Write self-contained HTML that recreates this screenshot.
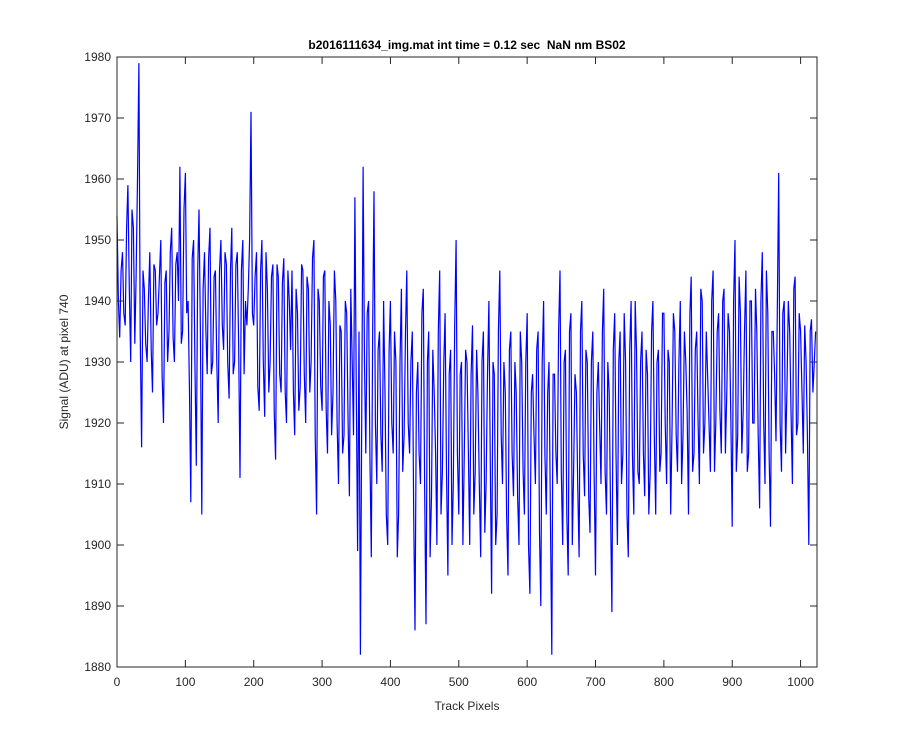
<!DOCTYPE html>
<html><head><meta charset="utf-8"><style>
body{margin:0;background:#fff}
svg text{font-family:"Liberation Sans",Arial,sans-serif;font-size:12px;fill:#262626}
</style></head><body>
<svg id="chart" width="900" height="750" xmlns="http://www.w3.org/2000/svg">
<rect width="900" height="750" fill="#fff"/>
<g id="axes"></g>
<text x="467" y="49" text-anchor="middle" style="font-weight:bold;font-size:12px;fill:#000;white-space:pre">b2016111634_img.mat int time = 0.12 sec  NaN nm BS02</text>
<text x="467" y="710" text-anchor="middle">Track Pixels</text>
<text transform="translate(68,362) rotate(-90)" text-anchor="middle">Signal (ADU) at pixel 740</text>
</svg>
<script>
const xTicks=[0,100,200,300,400,500,600,700,800,900,1000];
const yTicks=[1880,1890,1900,1910,1920,1930,1940,1950,1960,1970,1980];
const step=2;
const signal=[
1954,1940,1934,1945,1948,1938,1936,1952,1959,1942,1930,1955,1952,1933,1944,1960,1979,1935,1916,1945,1942,1933,1930,1940,1948,1932,1925,1946,1945,1936,1938,1944,
1950,1928,1920,1943,1945,1930,1935,1948,1952,1934,1930,1946,1948,1940,1962,1933,1935,1955,1961,1938,1940,1925,1907,1947,1950,1930,1913,1945,1955,1935,1905,1942,
1948,1935,1928,1947,1952,1928,1930,1944,1945,1930,1920,1945,1950,1936,1932,1948,1946,1930,1924,1945,1952,1928,1930,1946,1948,1932,1911,1945,1950,1928,1940,1936,
1942,1950,1971,1938,1936,1944,1948,1926,1922,1945,1950,1930,1921,1948,1942,1925,1930,1944,1946,1922,1914,1946,1944,1928,1925,1943,1947,1925,1920,1945,1940,1932,
1945,1925,1918,1942,1938,1922,1926,1946,1945,1928,1920,1944,1942,1925,1930,1947,1950,1918,1905,1942,1940,1926,1922,1944,1945,1922,1915,1940,1936,1918,1925,1945,
1940,1920,1910,1936,1935,1915,1918,1940,1938,1920,1908,1942,1930,1918,1957,1925,1899,1935,1882,1920,1962,1930,1915,1938,1940,1915,1898,1936,1958,1920,1910,1932,
1935,1918,1912,1940,1925,1905,1900,1932,1940,1920,1915,1935,1930,1898,1905,1930,1942,1912,1918,1935,1945,1920,1915,1930,1935,1905,1886,1925,1930,1915,1910,1938,
1942,1910,1887,1930,1935,1898,1908,1932,1925,1915,1900,1935,1945,1905,1912,1930,1938,1912,1895,1928,1932,1900,1910,1936,1950,1915,1905,1928,1930,1900,1915,1932,
1930,1915,1900,1928,1936,1905,1912,1932,1925,1910,1898,1930,1935,1902,1910,1928,1940,1915,1892,1930,1928,1900,1905,1935,1945,1918,1910,1930,1925,1905,1895,1932,
1935,1915,1908,1930,1925,1908,1900,1935,1930,1912,1905,1930,1938,1900,1892,1925,1928,1918,1910,1932,1935,1902,1890,1930,1940,1915,1905,1925,1930,1905,1882,1928,
1928,1915,1910,1935,1945,1912,1900,1930,1932,1905,1895,1935,1938,1900,1912,1928,1925,1910,1898,1935,1940,1915,1908,1932,1930,1908,1902,1930,1935,1912,1895,1925,
1930,1920,1910,1935,1942,1912,1905,1930,1925,1905,1889,1932,1938,1915,1900,1930,1935,1910,1915,1938,1930,1905,1898,1932,1940,1915,1905,1940,1932,1912,1910,1930,
1935,1915,1908,1932,1928,1905,1912,1935,1940,1918,1905,1930,1932,1912,1915,1938,1938,1920,1910,1932,1930,1905,1920,1938,1935,1918,1912,1930,1940,1910,1918,1935,
1930,1922,1905,1938,1944,1912,1915,1932,1935,1920,1910,1942,1940,1915,1920,1935,1928,1920,1912,1940,1945,1912,1920,1935,1938,1922,1915,1940,1942,1915,1925,1938,
1935,1920,1903,1940,1950,1912,1918,1944,1938,1915,1922,1935,1945,1912,1915,1940,1940,1920,1920,1942,1935,1918,1906,1940,1948,1920,1910,1945,1938,1915,1903,1935,
1935,1928,1917,1940,1961,1920,1912,1938,1940,1915,1925,1940,1935,1922,1910,1942,1944,1918,1920,1938,1935,1925,1915,1936,1930,1918,1900,1935,1937,1925,1930,1935];
const L=117,R=817,T=57,B=667,X0=0,X1=1024,Y0=1880,Y1=1980;
const sx=v=>L+(v-X0)/(X1-X0)*(R-L);
const sy=v=>B-(v-Y0)/(Y1-Y0)*(B-T);
const NS="http://www.w3.org/2000/svg";
const g=document.getElementById('axes');
function mk(t,a){const e=document.createElementNS(NS,t);for(const k in a)e.setAttribute(k,a[k]);g.appendChild(e);return e;}
const pts=signal.map((v,i)=>sx(i*step).toFixed(1)+','+sy(v).toFixed(1)).join(' ');
const line=mk('polyline',{points:pts,fill:'none',stroke:'#0000ff','stroke-width':1.2,'stroke-linejoin':'miter'});


const box=mk('rect',{x:L,y:T,width:R-L,height:B-T,fill:'none',stroke:'#262626','stroke-width':1});


xTicks.forEach(v=>{const x=sx(v);
mk('line',{x1:x,x2:x,y1:B,y2:B-7,stroke:'#262626'});
mk('line',{x1:x,x2:x,y1:T,y2:T+7,stroke:'#262626'});
const t=mk('text',{x:x,y:B+19,'text-anchor':'middle'});t.textContent=v;

});
yTicks.forEach(v=>{const y=sy(v);
mk('line',{x1:L,x2:L+7,y1:y,y2:y,stroke:'#262626'});
mk('line',{x1:R,x2:R-7,y1:y,y2:y,stroke:'#262626'});
const t=mk('text',{x:L-6,y:y+4,'text-anchor':'end'});t.textContent=v;

});
</script>
</body></html>
